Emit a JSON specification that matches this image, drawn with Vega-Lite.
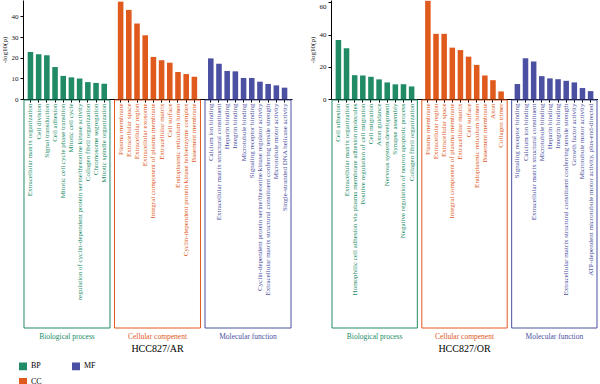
{
  "$schema": "https://vega.github.io/schema/vega-lite/v6.json",
  "padding": {"left": 0, "top": 0, "right": 0, "bottom": 0},
  "background": "white",
  "config": {
    "font": "Liberation Serif",
    "view": {"stroke": null},
    "axis": {"domainColor": "#000000", "tickColor": "#000000", "labelColor": "#111111", "titleColor": "#111111", "grid": false, "labelFont": "Liberation Serif", "titleFont": "Liberation Serif"},
    "title": {"font": "Liberation Serif", "fontWeight": "normal"},
    "legend": {"labelFont": "Liberation Serif"}
  },
  "datasets": {
    "ar": [
      {"category": "BP", "term": "Extracellular matrix organization", "value": 22.8},
      {"category": "BP", "term": "Cell division", "value": 21.7},
      {"category": "BP", "term": "Signal transduction", "value": 21.2},
      {"category": "BP", "term": "Cell adhesion", "value": 15.5},
      {"category": "BP", "term": "Mitotic cell cycle phase transition", "value": 11.2},
      {"category": "BP", "term": "Mitotic cell cycle", "value": 10.5},
      {"category": "BP", "term": "regulation of cyclin-dependent protein serine/threonine kinase activity", "value": 10.0},
      {"category": "BP", "term": "Collagen fibril organization", "value": 8.2},
      {"category": "BP", "term": "Chromosome segregation", "value": 7.8},
      {"category": "BP", "term": "Mitotic spindle organization", "value": 7.4},
      {"category": "CC", "term": "Plasma membrane", "value": 47.2},
      {"category": "CC", "term": "Extracellular space", "value": 43.2},
      {"category": "CC", "term": "Extracellular region", "value": 36.6},
      {"category": "CC", "term": "Extracellular exosome", "value": 30.9},
      {"category": "CC", "term": "Integral component of plasma membrane", "value": 20.4},
      {"category": "CC", "term": "Extracellular matrix", "value": 18.8},
      {"category": "CC", "term": "Cell surface", "value": 17.6},
      {"category": "CC", "term": "Endoplasmic reticulum lumen", "value": 13.1},
      {"category": "CC", "term": "Cyclin-dependent protein kinase holoenzyme complex", "value": 12.1},
      {"category": "CC", "term": "Basement membrane", "value": 10.8},
      {"category": "MF", "term": "Calcium ion binding", "value": 19.7},
      {"category": "MF", "term": "Extracellular matrix structural constituent", "value": 17.1},
      {"category": "MF", "term": "Heparin binding", "value": 13.6},
      {"category": "MF", "term": "Integrin binding", "value": 13.4},
      {"category": "MF", "term": "Microtubule binding", "value": 10.2},
      {"category": "MF", "term": "Signaling receptor binding", "value": 10.2},
      {"category": "MF", "term": "Cyclin-dependent protein serine/threonine kinase regulator activity", "value": 8.4},
      {"category": "MF", "term": "Extracellular matrix structural constituent conferring tensile strength", "value": 7.3},
      {"category": "MF", "term": "Microtubule motor activity", "value": 6.6},
      {"category": "MF", "term": "Single-stranded DNA helicase activity", "value": 5.5}
    ],
    "or": [
      {"category": "BP", "term": "Cell adhesion", "value": 36.6},
      {"category": "BP", "term": "Extracellular matrix organization", "value": 31.5},
      {"category": "BP", "term": "Homophilic cell adhesion via plasma membrane adhesion molecules", "value": 14.8},
      {"category": "BP", "term": "Positive regulation of cell migration", "value": 14.6},
      {"category": "BP", "term": "Cell migration", "value": 13.8},
      {"category": "BP", "term": "Axon guidance", "value": 12.2},
      {"category": "BP", "term": "Nervous system development", "value": 10.3},
      {"category": "BP", "term": "Synapse assembly", "value": 9.1},
      {"category": "BP", "term": "Negative regulation of neuron apoptotic process", "value": 9.2},
      {"category": "BP", "term": "Collagen fibril organization", "value": 7.8},
      {"category": "CC", "term": "Plasma membrane", "value": 61.0},
      {"category": "CC", "term": "Extracellular region", "value": 40.5},
      {"category": "CC", "term": "Extracellular space", "value": 40.5},
      {"category": "CC", "term": "Integral component of plasma membrane", "value": 31.9},
      {"category": "CC", "term": "Extracellular matrix", "value": 30.4},
      {"category": "CC", "term": "Cell surface", "value": 26.3},
      {"category": "CC", "term": "Endoplasmic reticulum lumen", "value": 21.2},
      {"category": "CC", "term": "Basement membrane", "value": 14.6},
      {"category": "CC", "term": "Axon", "value": 11.7},
      {"category": "CC", "term": "Collagen trimer", "value": 4.7},
      {"category": "MF", "term": "Signaling receptor binding", "value": 9.3},
      {"category": "MF", "term": "Calcium ion binding", "value": 25.3},
      {"category": "MF", "term": "Extracellular matrix structural constituent", "value": 23.3},
      {"category": "MF", "term": "Microtubule binding", "value": 14.2},
      {"category": "MF", "term": "Heparin binding", "value": 12.8},
      {"category": "MF", "term": "Integrin binding", "value": 12.3},
      {"category": "MF", "term": "Extracellular matrix structural constituent conferring tensile strength", "value": 11.3},
      {"category": "MF", "term": "Growth factor activity", "value": 10.3},
      {"category": "MF", "term": "Microtubule motor activity", "value": 6.8},
      {"category": "MF", "term": "ATP-dependent microtubule motor activity, plus-end-directed", "value": 4.9}
    ]
  },
  "columns": 2,
  "spacing": {"row": 1, "column": 39},
  "bounds": "flush",
  "resolve": {"scale": {"x": "independent", "y": "independent", "color": "shared", "stroke": "shared"}},
  "concat": [
    {
      "width": 269,
      "height": 99,
      "data": {"name": "ar"},
      "mark": {"type": "bar"},
      "encoding": {
        "x": {"field": "term", "type": "nominal", "sort": null,
          "scale": {"domain": ["Extracellular matrix organization", "Cell division", "Signal transduction", "Cell adhesion", "Mitotic cell cycle phase transition", "Mitotic cell cycle", "regulation of cyclin-dependent protein serine/threonine kinase activity", "Collagen fibril organization", "Chromosome segregation", "Mitotic spindle organization", " ", "Plasma membrane", "Extracellular space", "Extracellular region", "Extracellular exosome", "Integral component of plasma membrane", "Extracellular matrix", "Cell surface", "Endoplasmic reticulum lumen", "Cyclin-dependent protein kinase holoenzyme complex", "Basement membrane", "  ", "Calcium ion binding", "Extracellular matrix structural constituent", "Heparin binding", "Integrin binding", "Microtubule binding", "Signaling receptor binding", "Cyclin-dependent protein serine/threonine kinase regulator activity", "Extracellular matrix structural constituent conferring tensile strength", "Microtubule motor activity", "Single-stranded DNA helicase activity"], "paddingInner": 0.32, "paddingOuter": 0.57},
          "axis": {"labels": false, "title": null, "tickSize": 3, "values": ["Extracellular matrix organization", "Cell division", "Signal transduction", "Cell adhesion", "Mitotic cell cycle phase transition", "Mitotic cell cycle", "regulation of cyclin-dependent protein serine/threonine kinase activity", "Collagen fibril organization", "Chromosome segregation", "Mitotic spindle organization", "Plasma membrane", "Extracellular space", "Extracellular region", "Extracellular exosome", "Integral component of plasma membrane", "Extracellular matrix", "Cell surface", "Endoplasmic reticulum lumen", "Cyclin-dependent protein kinase holoenzyme complex", "Basement membrane", "Calcium ion binding", "Extracellular matrix structural constituent", "Heparin binding", "Integrin binding", "Microtubule binding", "Signaling receptor binding", "Cyclin-dependent protein serine/threonine kinase regulator activity", "Extracellular matrix structural constituent conferring tensile strength", "Microtubule motor activity", "Single-stranded DNA helicase activity"]}},
        "y": {"field": "value", "type": "quantitative", "scale": {"domain": [0, 48], "nice": false},
          "axis": {"values": [0, 10, 20, 30, 40], "title": "-log10(p)", "titleFontSize": 7, "titleFontWeight": "normal", "labelFontSize": 7, "tickSize": 3, "labelPadding": 2, "titlePadding": 4}},
        "color": {"field": "category", "type": "nominal", "scale": {"domain": ["BP", "CC", "MF"], "range": ["#218b66", "#e0591d", "#4b50a2"]},
          "legend": {"orient": "none", "legendX": -4, "legendY": 362, "title": null, "columns": 2, "symbolType": "square", "symbolSize": 42, "labelFontSize": 8, "columnPadding": 27, "rowPadding": 2, "labelColor": "#000000"}}
      }
    },
    {
      "width": 267,
      "height": 99,
      "data": {"name": "or"},
      "mark": {"type": "bar"},
      "encoding": {
        "x": {"field": "term", "type": "nominal", "sort": null,
          "scale": {"domain": ["Cell adhesion", "Extracellular matrix organization", "Homophilic cell adhesion via plasma membrane adhesion molecules", "Positive regulation of cell migration", "Cell migration", "Axon guidance", "Nervous system development", "Synapse assembly", "Negative regulation of neuron apoptotic process", "Collagen fibril organization", " ", "Plasma membrane", "Extracellular region", "Extracellular space", "Integral component of plasma membrane", "Extracellular matrix", "Cell surface", "Endoplasmic reticulum lumen", "Basement membrane", "Axon", "Collagen trimer", "  ", "Signaling receptor binding", "Calcium ion binding", "Extracellular matrix structural constituent", "Microtubule binding", "Heparin binding", "Integrin binding", "Extracellular matrix structural constituent conferring tensile strength", "Growth factor activity", "Microtubule motor activity", "ATP-dependent microtubule motor activity, plus-end-directed"], "paddingInner": 0.32, "paddingOuter": 0.57},
          "axis": {"labels": false, "title": null, "tickSize": 3, "values": ["Cell adhesion", "Extracellular matrix organization", "Homophilic cell adhesion via plasma membrane adhesion molecules", "Positive regulation of cell migration", "Cell migration", "Axon guidance", "Nervous system development", "Synapse assembly", "Negative regulation of neuron apoptotic process", "Collagen fibril organization", "Plasma membrane", "Extracellular region", "Extracellular space", "Integral component of plasma membrane", "Extracellular matrix", "Cell surface", "Endoplasmic reticulum lumen", "Basement membrane", "Axon", "Collagen trimer", "Signaling receptor binding", "Calcium ion binding", "Extracellular matrix structural constituent", "Microtubule binding", "Heparin binding", "Integrin binding", "Extracellular matrix structural constituent conferring tensile strength", "Growth factor activity", "Microtubule motor activity", "ATP-dependent microtubule motor activity, plus-end-directed"]}},
        "y": {"field": "value", "type": "quantitative", "scale": {"domain": [0, 61.5], "nice": false},
          "axis": {"values": [0, 20, 40, 60], "title": "-log10(p)", "titleFontSize": 7, "titleFontWeight": "normal", "labelFontSize": 7, "tickSize": 3, "labelPadding": 2, "titlePadding": 4,
            "labelBaseline": {"condition": {"test": "datum.value == 60", "value": "top"}, "value": "middle"}}},
        "color": {"field": "category", "type": "nominal", "scale": {"domain": ["BP", "CC", "MF"], "range": ["#218b66", "#e0591d", "#4b50a2"]},
          "legend": {"orient": "none", "legendX": -4, "legendY": 362, "title": null, "columns": 2, "symbolType": "square", "symbolSize": 42, "labelFontSize": 8, "columnPadding": 27, "rowPadding": 2, "labelColor": "#000000"}}
      }
    },
    {
      "width": 269,
      "height": 228,
      "title": {"text": "HCC827/AR", "orient": "bottom", "frame": "group", "anchor": "middle", "fontSize": 10, "color": "#000000", "offset": 4},
      "resolve": {"scale": {"x": "independent"}, "axis": {"x": "independent"}},
      "layer": [
        {
          "data": {"name": "ar"},
          "transform": [{"aggregate": [{"op": "count", "as": "n"}], "groupby": ["category"]}],
          "mark": {"type": "bar", "fillOpacity": 0, "strokeWidth": 1},
          "encoding": {
            "x": {"field": "category", "type": "nominal", "sort": ["BP", "CC", "MF"], "scale": {"domain": ["BP", "CC", "MF"], "paddingInner": 0.05, "paddingOuter": 0.011},
              "axis": {"orient": "bottom", "title": null, "domain": false, "ticks": false, "labelAngle": 0, "labelPadding": 4, "labelFontSize": 7.5,
                "labelExpr": "datum.value == 'BP' ? 'Biological process' : datum.value == 'CC' ? 'Cellular compenent' : 'Molecular function'",
                "labelColor": {"condition": [{"test": "datum.value == 'BP'", "value": "#218b66"}, {"test": "datum.value == 'CC'", "value": "#e0591d"}], "value": "#4b50a2"}}},
            "y": {"datum": 1, "type": "quantitative", "scale": {"domain": [0, 1], "nice": false}, "axis": null},
            "y2": {"datum": 0},
            "stroke": {"field": "category", "type": "nominal", "scale": {"domain": ["BP", "CC", "MF"], "range": ["#218b66", "#e0591d", "#4b50a2"]}, "legend": null}
          }
        },
        {
          "data": {"name": "ar"},
          "mark": {"type": "bar", "opacity": 0},
          "encoding": {
            "x": {"field": "term", "type": "nominal", "sort": null,
              "scale": {"domain": ["Extracellular matrix organization", "Cell division", "Signal transduction", "Cell adhesion", "Mitotic cell cycle phase transition", "Mitotic cell cycle", "regulation of cyclin-dependent protein serine/threonine kinase activity", "Collagen fibril organization", "Chromosome segregation", "Mitotic spindle organization", " ", "Plasma membrane", "Extracellular space", "Extracellular region", "Extracellular exosome", "Integral component of plasma membrane", "Extracellular matrix", "Cell surface", "Endoplasmic reticulum lumen", "Cyclin-dependent protein kinase holoenzyme complex", "Basement membrane", "  ", "Calcium ion binding", "Extracellular matrix structural constituent", "Heparin binding", "Integrin binding", "Microtubule binding", "Signaling receptor binding", "Cyclin-dependent protein serine/threonine kinase regulator activity", "Extracellular matrix structural constituent conferring tensile strength", "Microtubule motor activity", "Single-stranded DNA helicase activity"], "paddingInner": 0.32, "paddingOuter": 0.57},
              "axis": {"orient": "top", "title": null, "domain": false, "ticks": false, "labelAngle": 270, "labelAlign": "right", "labelBaseline": "middle", "labelPadding": -3, "labelLimit": 0, "labelFontSize": 7,
                "values": ["Extracellular matrix organization", "Cell division", "Signal transduction", "Cell adhesion", "Mitotic cell cycle phase transition", "Mitotic cell cycle", "regulation of cyclin-dependent protein serine/threonine kinase activity", "Collagen fibril organization", "Chromosome segregation", "Mitotic spindle organization", "Plasma membrane", "Extracellular space", "Extracellular region", "Extracellular exosome", "Integral component of plasma membrane", "Extracellular matrix", "Cell surface", "Endoplasmic reticulum lumen", "Cyclin-dependent protein kinase holoenzyme complex", "Basement membrane", "Calcium ion binding", "Extracellular matrix structural constituent", "Heparin binding", "Integrin binding", "Microtubule binding", "Signaling receptor binding", "Cyclin-dependent protein serine/threonine kinase regulator activity", "Extracellular matrix structural constituent conferring tensile strength", "Microtubule motor activity", "Single-stranded DNA helicase activity"],
                "labelColor": {"condition": [
                  {"test": "indexof(['Extracellular matrix organization', 'Cell division', 'Signal transduction', 'Cell adhesion', 'Mitotic cell cycle phase transition', 'Mitotic cell cycle', 'regulation of cyclin-dependent protein serine/threonine kinase activity', 'Collagen fibril organization', 'Chromosome segregation', 'Mitotic spindle organization'], datum.value) >= 0", "value": "#218b66"},
                  {"test": "indexof(['Plasma membrane', 'Extracellular space', 'Extracellular region', 'Extracellular exosome', 'Integral component of plasma membrane', 'Extracellular matrix', 'Cell surface', 'Endoplasmic reticulum lumen', 'Cyclin-dependent protein kinase holoenzyme complex', 'Basement membrane'], datum.value) >= 0", "value": "#e0591d"}
                ], "value": "#4b50a2"}}},
            "y": {"datum": 1, "type": "quantitative"},
            "y2": {"datum": 0}
          }
        }
      ]
    },
    {
      "width": 267,
      "height": 228,
      "title": {"text": "HCC827/OR", "orient": "bottom", "frame": "group", "anchor": "middle", "fontSize": 10, "color": "#000000", "offset": 4},
      "resolve": {"scale": {"x": "independent"}, "axis": {"x": "independent"}},
      "layer": [
        {
          "data": {"name": "or"},
          "transform": [{"aggregate": [{"op": "count", "as": "n"}], "groupby": ["category"]}],
          "mark": {"type": "bar", "fillOpacity": 0, "strokeWidth": 1},
          "encoding": {
            "x": {"field": "category", "type": "nominal", "sort": ["BP", "CC", "MF"], "scale": {"domain": ["BP", "CC", "MF"], "paddingInner": 0.05, "paddingOuter": 0.011},
              "axis": {"orient": "bottom", "title": null, "domain": false, "ticks": false, "labelAngle": 0, "labelPadding": 4, "labelFontSize": 7.5,
                "labelExpr": "datum.value == 'BP' ? 'Biological process' : datum.value == 'CC' ? 'Cellular compenent' : 'Molecular function'",
                "labelColor": {"condition": [{"test": "datum.value == 'BP'", "value": "#218b66"}, {"test": "datum.value == 'CC'", "value": "#e0591d"}], "value": "#4b50a2"}}},
            "y": {"datum": 1, "type": "quantitative", "scale": {"domain": [0, 1], "nice": false}, "axis": null},
            "y2": {"datum": 0},
            "stroke": {"field": "category", "type": "nominal", "scale": {"domain": ["BP", "CC", "MF"], "range": ["#218b66", "#e0591d", "#4b50a2"]}, "legend": null}
          }
        },
        {
          "data": {"name": "or"},
          "mark": {"type": "bar", "opacity": 0},
          "encoding": {
            "x": {"field": "term", "type": "nominal", "sort": null,
              "scale": {"domain": ["Cell adhesion", "Extracellular matrix organization", "Homophilic cell adhesion via plasma membrane adhesion molecules", "Positive regulation of cell migration", "Cell migration", "Axon guidance", "Nervous system development", "Synapse assembly", "Negative regulation of neuron apoptotic process", "Collagen fibril organization", " ", "Plasma membrane", "Extracellular region", "Extracellular space", "Integral component of plasma membrane", "Extracellular matrix", "Cell surface", "Endoplasmic reticulum lumen", "Basement membrane", "Axon", "Collagen trimer", "  ", "Signaling receptor binding", "Calcium ion binding", "Extracellular matrix structural constituent", "Microtubule binding", "Heparin binding", "Integrin binding", "Extracellular matrix structural constituent conferring tensile strength", "Growth factor activity", "Microtubule motor activity", "ATP-dependent microtubule motor activity, plus-end-directed"], "paddingInner": 0.32, "paddingOuter": 0.57},
              "axis": {"orient": "top", "title": null, "domain": false, "ticks": false, "labelAngle": 270, "labelAlign": "right", "labelBaseline": "middle", "labelPadding": -3, "labelLimit": 0, "labelFontSize": 7,
                "values": ["Cell adhesion", "Extracellular matrix organization", "Homophilic cell adhesion via plasma membrane adhesion molecules", "Positive regulation of cell migration", "Cell migration", "Axon guidance", "Nervous system development", "Synapse assembly", "Negative regulation of neuron apoptotic process", "Collagen fibril organization", "Plasma membrane", "Extracellular region", "Extracellular space", "Integral component of plasma membrane", "Extracellular matrix", "Cell surface", "Endoplasmic reticulum lumen", "Basement membrane", "Axon", "Collagen trimer", "Signaling receptor binding", "Calcium ion binding", "Extracellular matrix structural constituent", "Microtubule binding", "Heparin binding", "Integrin binding", "Extracellular matrix structural constituent conferring tensile strength", "Growth factor activity", "Microtubule motor activity", "ATP-dependent microtubule motor activity, plus-end-directed"],
                "labelColor": {"condition": [
                  {"test": "indexof(['Cell adhesion', 'Extracellular matrix organization', 'Homophilic cell adhesion via plasma membrane adhesion molecules', 'Positive regulation of cell migration', 'Cell migration', 'Axon guidance', 'Nervous system development', 'Synapse assembly', 'Negative regulation of neuron apoptotic process', 'Collagen fibril organization'], datum.value) >= 0", "value": "#218b66"},
                  {"test": "indexof(['Plasma membrane', 'Extracellular region', 'Extracellular space', 'Integral component of plasma membrane', 'Extracellular matrix', 'Cell surface', 'Endoplasmic reticulum lumen', 'Basement membrane', 'Axon', 'Collagen trimer'], datum.value) >= 0", "value": "#e0591d"}
                ], "value": "#4b50a2"}}},
            "y": {"datum": 1, "type": "quantitative"},
            "y2": {"datum": 0}
          }
        }
      ]
    }
  ]
}
